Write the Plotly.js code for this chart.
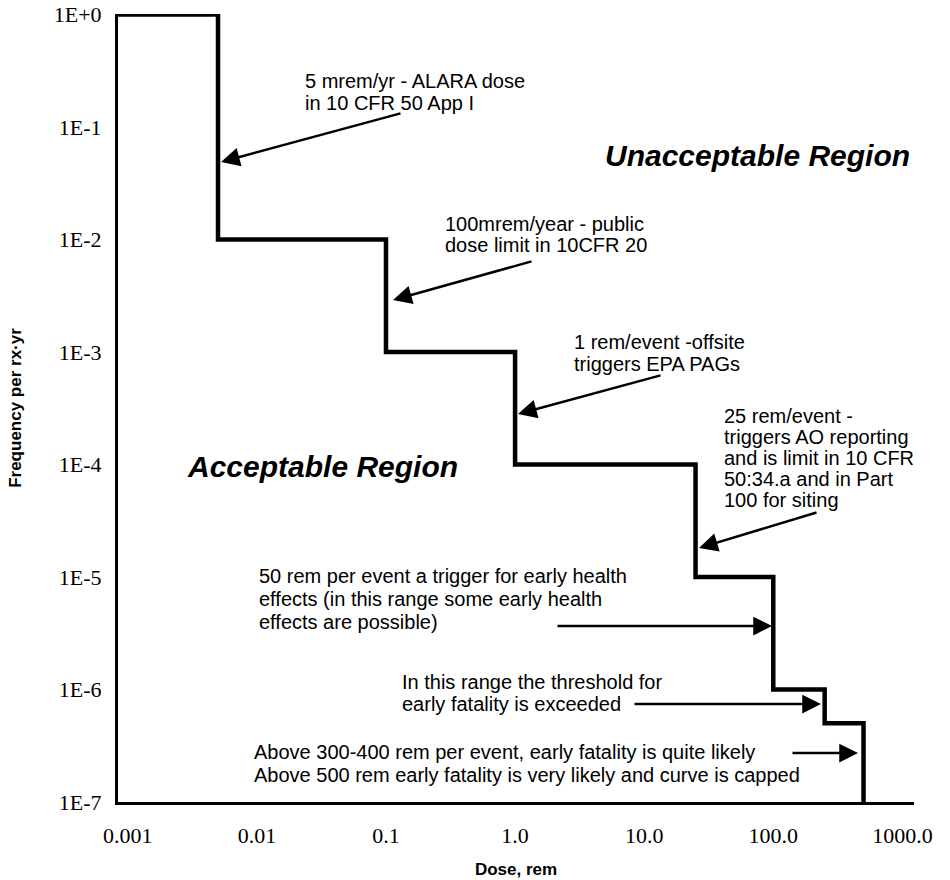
<!DOCTYPE html>
<html>
<head>
<meta charset="utf-8">
<script src="https://cdn.plot.ly/plotly-3.0.1.min.js"></script>
<style>html,body{margin:0;padding:0;background:#fff;}#chart{width:950px;height:880px;}</style>
</head>
<body>
<div id="chart"></div>
<script>
// ---- data ----
const doseSteps = [0.00084, 0.005, 0.1, 1, 25, 100, 250, 500];          // rem
const frequencyLevels = [1, 1e-2, 1e-3, 1e-4, 1e-5, 1e-6, 5e-7, 1e-7];  // per rx-yr
const xTickValues = [0.001, 0.01, 0.1, 1, 10, 100, 1000];
const xTickLabels = ["0.001", "0.01", "0.1", "1.0", "10.0", "100.0", "1000.0"];
const yTickValues = [1, 1e-1, 1e-2, 1e-3, 1e-4, 1e-5, 1e-6, 1e-7];
const yTickLabels = ["1E+0", "1E-1", "1E-2", "1E-3", "1E-4", "1E-5", "1E-6", "1E-7"];
const xAxisTitle = "Dose, rem";
const yAxisTitle = "Frequency per rx\u00B7yr";
const regionLabels = ["Unacceptable Region", "Acceptable Region"];
const alaraNote = ["5 mrem/yr - ALARA dose", "in 10 CFR 50 App I"];
const publicNote = ["100mrem/year - public", "dose limit in 10CFR 20"];
const pagNote = ["1 rem/event -offsite", "triggers EPA PAGs"];
const aoNote = ["25 rem/event -", "triggers AO reporting", "and is limit in 10 CFR", "50:34.a and in Part", "100 for siting"];
const healthNote = ["50 rem per event a trigger for early health", "effects (in this range some early health", "effects are possible)"];
const fatalityNote = ["In this range the threshold for", "early fatality is exceeded"];
const cappedNote = ["Above 300-400 rem per event, early fatality is quite likely", "Above 500 rem early fatality is very likely and curve is capped"];

// ---- layout geometry ----
const W = 950, H = 880;
const M = {l: 118, r: 36, t: 14, b: 78};
const PW = W - M.l - M.r, PH = H - M.t - M.b;
const px = (x) => (x - M.l) / PW;
const py = (y) => (H - M.b - y) / PH;

const textFont = {family: "Liberation Sans, Arial, sans-serif", size: 20, color: "#000"};
const regionFont = {family: "Liberation Sans, Arial, sans-serif", size: 30, color: "#000", weight: "bold", style: "italic"};

const annotations = [];
function addLines(lines, left, firstY, spacing) {
  lines.forEach((t, i) => {
    annotations.push({xref: "paper", yref: "paper", x: px(left), y: py(firstY + i * spacing),
      xanchor: "left", yanchor: "middle", text: t, showarrow: false, font: textFont});
  });
}
function addArrow(tail, tip) {
  annotations.push({xref: "paper", yref: "paper", x: px(tip[0]), y: py(tip[1]),
    ax: tail[0] - tip[0], ay: tail[1] - tip[1], text: "", showarrow: true,
    arrowhead: 2, arrowsize: 1.5, arrowwidth: 2.5, arrowcolor: "#000", standoff: 0});
}

addLines(alaraNote, 303, 81, 21.5);
addArrow([402, 113], [221, 162]);
addLines(publicNote, 443, 224, 21.5);
addArrow([533, 261], [393, 300]);
addLines(pagNote, 572, 342, 21.5);
addArrow([662, 375], [518, 414]);
addLines(aoNote, 722, 416, 21);
addArrow([818, 512], [699, 548]);
addLines(healthNote, 257, 576, 23);
addArrow([556, 626], [772, 626]);
addLines(fatalityNote, 400, 682, 22);
addArrow([633, 704], [821, 704]);
addLines(cappedNote, 252, 752, 23);
addArrow([791, 753], [858, 753]);

annotations.push({xref: "paper", yref: "paper", x: px(603), y: py(155), xanchor: "left", yanchor: "middle",
  text: regionLabels[0], showarrow: false, font: regionFont});
annotations.push({xref: "paper", yref: "paper", x: px(185), y: py(466), xanchor: "left", yanchor: "middle",
  text: regionLabels[1], showarrow: false, font: regionFont});

const trace = {
  x: doseSteps, y: frequencyLevels, type: "scatter", mode: "lines",
  line: {shape: "hv", color: "#000", width: 4.5}, cliponaxis: false, hoverinfo: "skip"
};

const tickFont = {family: "Liberation Serif, Times New Roman, serif", size: 22, color: "#000"};
const titleFont = {family: "Liberation Sans Narrow, Arial Narrow, Liberation Sans, sans-serif", size: 17, color: "#000", weight: "bold"};

const layout = {
  width: W, height: H, margin: M, showlegend: false,
  paper_bgcolor: "#fff", plot_bgcolor: "#fff",
  xaxis: {
    type: "log", range: [Math.log10(0.00084), 3.09],
    showline: true, linecolor: "#000", linewidth: 3, showgrid: false, zeroline: false,
    ticks: "", tickvals: xTickValues, ticktext: xTickLabels, tickfont: tickFont,
    ticklabelstandoff: 12,
    title: {text: xAxisTitle, font: titleFont, standoff: 16}
  },
  yaxis: {
    type: "log", range: [-7, 0.004],
    showline: true, linecolor: "#000", linewidth: 3, showgrid: false, zeroline: false,
    ticks: "", tickvals: yTickValues, ticktext: yTickLabels, tickfont: tickFont,
    ticklabelstandoff: 9, ticklabeloverflow: "allow",
    title: {text: yAxisTitle, font: titleFont, standoff: 28}
  },
  annotations: annotations
};

Plotly.newPlot("chart", [trace], layout, {displayModeBar: false, staticPlot: true});
</script>
</body>
</html>
